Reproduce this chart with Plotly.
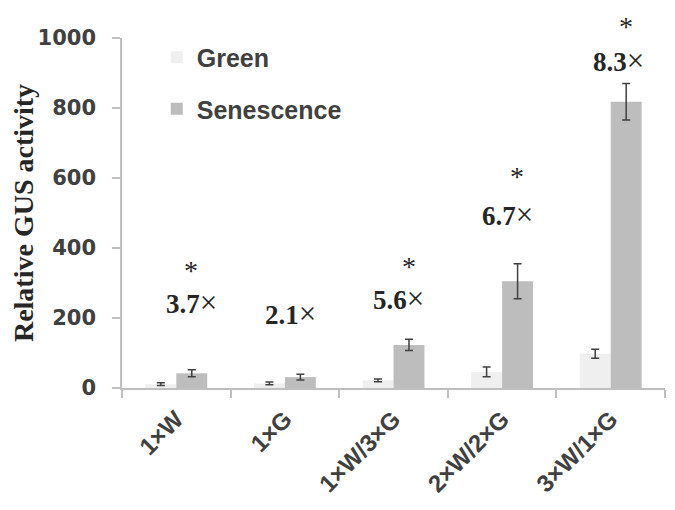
import plotly.graph_objects as go

categories = ["1×W", "1×G", "1×W/3×G", "2×W/2×G", "3×W/1×G"]
green = [11, 13, 22, 46, 98]
green_err = [4, 4, 4, 14, 13]
senescence = [42, 31, 123, 305, 818]
senescence_err = [10, 8, 16, 50, 52]

fold_labels = ["3.7", "2.1", "5.6", "6.7", "8.3"]
fold_y = [243, 214, 257, 497, 937]
fold_xshift = [15, 6, 5, 5, 8]
star_flags = [True, False, True, True, True]
star_y = [343, None, 357, 614, 1071]

Y_MAX = 1000
PAPER_TOP_LIMIT = 1.082  # keep text boxes inside the figure

fig = go.Figure()
fig.add_trace(go.Bar(
    x=categories, y=green, name="Green", legendgroup="g",
    marker=dict(color="#efefef", line=dict(width=0)),
    error_y=dict(type="data", array=green_err, color="#404040", thickness=1.5, width=4),
))
fig.add_trace(go.Bar(
    x=categories, y=senescence, name="Senescence", legendgroup="s",
    marker=dict(color="#bdbdbd", line=dict(width=0)),
    error_y=dict(type="data", array=senescence_err, color="#404040", thickness=1.5, width=4),
))

serif = "Liberation Serif, Times New Roman, serif"
annotations = []
for cat, lab, yy, xs in zip(categories, fold_labels, fold_y, fold_xshift):
    annotations.append(dict(
        x=cat, y=yy / Y_MAX, xref="x", yref="paper", xshift=xs, showarrow=False,
        xanchor="center", yanchor="middle",
        text=f"<b>{lab}</b><span style='font-size:31px'>×</span>",
        font=dict(family=serif, size=27, color="#262626"),
    ))
for cat, f, yy in zip(categories, star_flags, star_y):
    if f:
        py = yy / Y_MAX
        if py > 1.0:
            ann = dict(y=PAPER_TOP_LIMIT, yanchor="top", yshift=0)
        else:
            ann = dict(y=py, yanchor="middle", yshift=-3)
        annotations.append(dict(
            x=cat, xref="x", yref="paper", xshift=15, showarrow=False,
            xanchor="center", text="*",
            font=dict(family=serif, size=28, color="#262626"), **ann,
        ))

fig.update_layout(
    width=675, height=510,
    margin=dict(l=114, r=18, t=30, b=130),
    paper_bgcolor="white", plot_bgcolor="white",
    barmode="group", bargap=0.43, bargroupgap=0,
    showlegend=True,
    legend=dict(
        x=0.064, y=1.01, xanchor="left", yanchor="top",
        font=dict(family="Liberation Sans, Arial, sans-serif", size=25, color="#404040", weight="bold"),
        traceorder="grouped", tracegroupgap=16, bgcolor="rgba(0,0,0,0)",
        itemwidth=30,
    ),
    annotations=annotations,
    xaxis=dict(
        automargin=False,
        showline=True, linecolor="#bfbfbf", linewidth=1.5,
        ticks="outside", tickson="boundaries", ticklen=8, tickcolor="#bfbfbf", tickwidth=1.5,
        tickangle=-45, ticklabelstandoff=6,
        tickfont=dict(family="Liberation Sans, Arial, sans-serif", size=24, color="#404040", weight="bold"),
        showgrid=False,
    ),
    yaxis=dict(
        automargin=False,
        range=[0, Y_MAX], dtick=200,
        showline=True, linecolor="#bfbfbf", linewidth=1.5,
        ticks="outside", ticklen=8, tickcolor="#bfbfbf", tickwidth=1.5,
        ticklabelstandoff=12,
        tickfont=dict(family="DejaVu Sans, sans-serif", size=21, color="#404040", weight="bold"),
        showgrid=False, zeroline=False,
        title=dict(text="<b>Relative GUS activity</b>", standoff=2,
                   font=dict(family=serif, size=28, color="#262626")),
    ),
)

fig.write_html("out.html")
